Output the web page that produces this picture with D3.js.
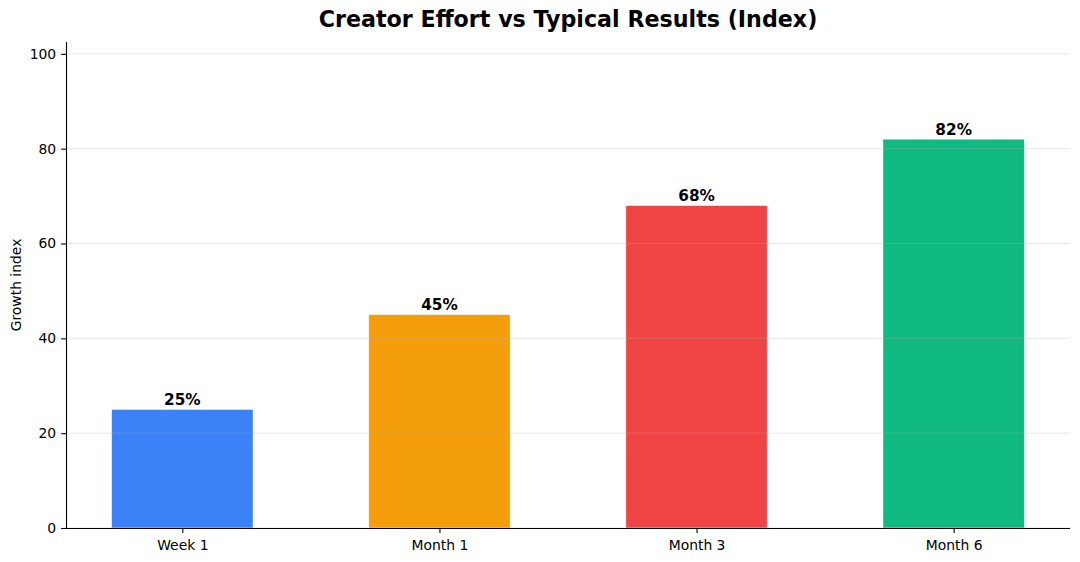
<!DOCTYPE html>
<html><head><meta charset="utf-8">
<script src="https://cdn.jsdelivr.net/npm/d3@7"></script>
<style>body{margin:0;background:#fff}svg{display:block}text{font-family:"DejaVu Sans",sans-serif}</style>
</head><body>
<svg id="c" width="1080" height="562"></svg>
<script>
const categories = ["Week 1", "Month 1", "Month 3", "Month 6"];
const values = [25, 45, 68, 82];
const colors = ["#3B82F6", "#F59E0B", "#EF4444", "#10B981"];
const yTicks = [0, 20, 40, 60, 80, 100];
const title = "Creator Effort vs Typical Results (Index)";
const yLabel = "Growth index";

const svg = d3.select("#c");
const L = 66, R = 1070, T = 42, B = 528;
const barW = 0.55;
const x = d3.scaleLinear().domain([-0.4525, 3.4525]).range([L, R]);
const y = d3.scaleLinear().domain([0, 102.5]).range([B, T]);

// bars
svg.append("g").selectAll("rect").data(values).join("rect")
  .attr("x", (d,i) => x(i - barW/2))
  .attr("width", (d,i) => x(i + barW/2) - x(i - barW/2))
  .attr("y", d => y(d))
  .attr("height", d => y(0) - y(d))
  .attr("fill", (d,i) => colors[i])
  .attr("stroke", "#fff").attr("stroke-width", 0.8).attr("stroke-opacity", 0.6);

// grid
svg.append("g").selectAll("line").data(yTicks).join("line")
  .attr("x1", L).attr("x2", R)
  .attr("y1", d => y(d)).attr("y2", d => y(d))
  .attr("stroke", "#b0b0b0").attr("stroke-opacity", 0.3).attr("stroke-width", 1);

// axes
const ya = svg.append("g").attr("transform", `translate(${L},0)`)
  .call(d3.axisLeft(y).tickValues(yTicks).tickSize(4.9).tickPadding(4.9));
const xa = svg.append("g").attr("transform", `translate(0,${B})`)
  .call(d3.axisBottom(x).tickValues(categories.map((c,i)=>i)).tickFormat(i => categories[i]).tickSize(4.9).tickPadding(7.5));
ya.select(".domain").attr("d", `M0.5,${B}V${T}`);
xa.select(".domain").attr("d", `M${L},0.5H${R}`);
[ya, xa].forEach(a => {
  a.selectAll(".domain").attr("stroke", "#000").attr("stroke-width", 1.1);
  a.selectAll(".tick line").attr("stroke", "#000").attr("stroke-width", 1.1);
  a.selectAll("text").attr("font-size", 13.9).attr("fill", "#000").attr("font-family", "DejaVu Sans");
});

// value labels
svg.append("g").selectAll("text").data(values).join("text")
  .attr("x", (d,i) => x(i))
  .attr("y", d => y(d + 1) + 0.5)
  .attr("text-anchor", "middle")
  .attr("font-size", 15.3).attr("font-weight", "bold").attr("fill", "#000")
  .text(d => d + "%");

// title
svg.append("text").attr("x", (L+R)/2).attr("y", 27).attr("text-anchor", "middle")
  .attr("font-size", 22.2).attr("font-weight", "bold").attr("fill", "#000").text(title);

// y label
svg.append("text").attr("transform", `translate(21,${(T+B)/2}) rotate(-90)`)
  .attr("text-anchor", "middle").attr("font-size", 13.9).attr("fill", "#000").text(yLabel);
</script>
</body></html>
